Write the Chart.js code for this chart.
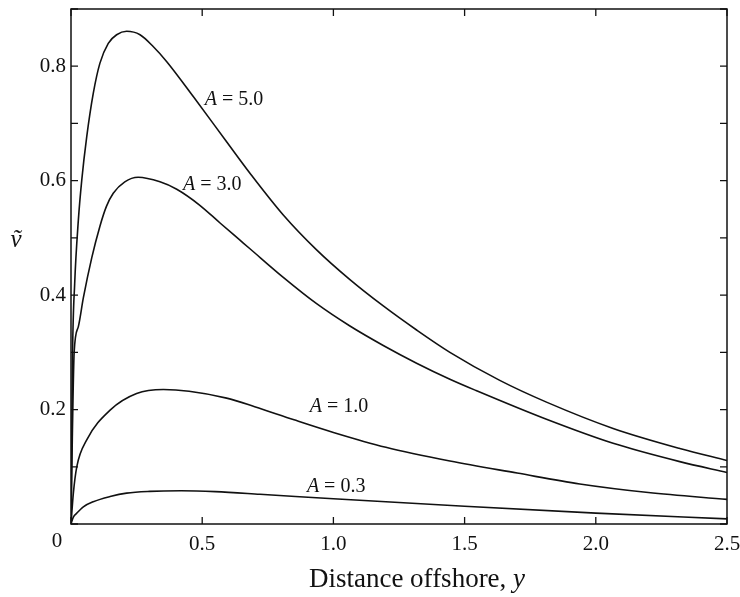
<!DOCTYPE html>
<html>
<head>
<meta charset="utf-8">
<script src="https://cdn.jsdelivr.net/npm/chart.js@4/dist/chart.umd.min.js"></script>
<style>
  html, body { margin: 0; padding: 0; background: #fff; overflow: hidden; }
  #wrap { width: 740px; height: 597px; position: relative; }
</style>
</head>
<body>
<div id="wrap"><canvas id="chartV"></canvas></div>
<script>
// Curves: distance offshore (x) vs v~ (y)
const a50X = [0, 0.003, 0.006, 0.014, 0.028, 0.041, 0.060, 0.085, 0.110, 0.142, 0.174, 0.212, 0.263, 0.314, 0.365, 0.466, 0.593, 0.682, 0.809, 0.936, 1.063, 1.190, 1.317, 1.444, 1.634, 1.812, 2.066, 2.320, 2.5];
const a50Y = [0, 0.15, 0.30, 0.42, 0.531, 0.601, 0.677, 0.753, 0.805, 0.840, 0.855, 0.861, 0.855, 0.834, 0.808, 0.747, 0.668, 0.613, 0.540, 0.479, 0.427, 0.381, 0.339, 0.300, 0.251, 0.213, 0.167, 0.132, 0.111];

const a30X = [0, 0.005, 0.012, 0.028, 0.047, 0.079, 0.110, 0.135, 0.161, 0.205, 0.256, 0.339, 0.403, 0.491, 0.568, 0.644, 0.682, 0.809, 0.936, 1.063, 1.190, 1.317, 1.444, 1.545, 1.812, 2.066, 2.320, 2.5];
const a30Y = [0, 0.15, 0.30, 0.345, 0.395, 0.465, 0.520, 0.555, 0.578, 0.598, 0.606, 0.598, 0.585, 0.557, 0.526, 0.496, 0.481, 0.431, 0.385, 0.346, 0.312, 0.281, 0.253, 0.233, 0.183, 0.141, 0.109, 0.090];

const a10X = [0, 0.009, 0.022, 0.060, 0.149, 0.250, 0.352, 0.450, 0.593, 0.700, 0.850, 1.000, 1.200, 1.444, 1.700, 1.939, 2.200, 2.5];
const a10Y = [0, 0.054, 0.100, 0.147, 0.199, 0.228, 0.235, 0.232, 0.220, 0.205, 0.182, 0.160, 0.134, 0.110, 0.089, 0.070, 0.055, 0.043];

const a03X = [0, 0.009, 0.022, 0.047, 0.085, 0.149, 0.212, 0.300, 0.420, 0.550, 0.720, 1.000, 1.500, 2.000, 2.5];
const a03Y = [0, 0.012, 0.019, 0.030, 0.039, 0.048, 0.054, 0.057, 0.058, 0.0565, 0.052, 0.044, 0.031, 0.019, 0.009];

const xTickValues = [0, 0.5, 1.0, 1.5, 2.0, 2.5];
const yTickValues = [0, 0.1, 0.2, 0.3, 0.4, 0.5, 0.6, 0.7, 0.8, 0.9];
const yLabelled = [0.2, 0.4, 0.6, 0.8];

// curve labels, anchored at data coords (left edge, vertical middle)
const curveLabels = [
  { value: '5.0', x: 0.51, y: 0.741 },
  { value: '3.0', x: 0.427, y: 0.593 },
  { value: '1.0', x: 0.910, y: 0.205 },
  { value: '0.3', x: 0.899, y: 0.065 }
];

const SERIF = "'Liberation Serif', 'Times New Roman', serif";
const INK = '#111';

function pts(xs, ys) {
  return xs.map(function(x, i) { return { x: x, y: ys[i] }; });
}

function curve(label, xs, ys) {
  return {
    label: label,
    data: pts(xs, ys),
    borderColor: INK,
    borderWidth: 1.6,
    pointRadius: 0,
    fill: false,
    cubicInterpolationMode: 'monotone'
  };
}

// frame, inward ticks and the extra text
const overlay = {
  id: 'overlay',
  afterDraw(chart) {
    const ctx = chart.ctx;
    const a = chart.chartArea;
    const x = chart.scales.x;
    const y = chart.scales.y;
    ctx.save();
    ctx.strokeStyle = INK;
    ctx.lineWidth = 1.5;
    ctx.strokeRect(a.left, a.top, a.right - a.left, a.bottom - a.top);

    ctx.lineWidth = 1.3;
    ctx.beginPath();
    xTickValues.forEach(function(v) {
      const px = x.getPixelForValue(v);
      ctx.moveTo(px, a.bottom); ctx.lineTo(px, a.bottom - 7);
      ctx.moveTo(px, a.top); ctx.lineTo(px, a.top + 7);
    });
    yTickValues.forEach(function(v) {
      const py = y.getPixelForValue(v);
      ctx.moveTo(a.left, py); ctx.lineTo(a.left + 7, py);
      ctx.moveTo(a.right, py); ctx.lineTo(a.right - 7, py);
    });
    ctx.stroke();

    ctx.fillStyle = INK;
    ctx.textBaseline = 'middle';

    // origin label sits left of the corner
    ctx.font = '21px ' + SERIF;
    ctx.textAlign = 'center';
    ctx.fillText('0', x.getPixelForValue(0) - 14, a.bottom + 17);

    // curve labels: italic A, upright rest
    curveLabels.forEach(function(l) {
      let px = x.getPixelForValue(l.x);
      const py = y.getPixelForValue(l.y);
      ctx.textAlign = 'left';
      ctx.font = 'italic 20px ' + SERIF;
      ctx.fillText('A', px, py);
      px += ctx.measureText('A').width;
      ctx.font = '20px ' + SERIF;
      ctx.fillText(' = ' + l.value, px, py);
    });

    // x axis title
    ctx.font = '27px ' + SERIF;
    const t1 = 'Distance offshore, ';
    const w1 = ctx.measureText(t1).width;
    ctx.font = 'italic 27px ' + SERIF;
    const w2 = ctx.measureText('y').width;
    const tx = 417 - (w1 + w2) / 2;
    ctx.textAlign = 'left';
    ctx.font = '27px ' + SERIF;
    ctx.fillText(t1, tx, 580);
    ctx.font = 'italic 27px ' + SERIF;
    ctx.fillText('y', tx + w1, 580);

    // y axis symbol
    ctx.font = 'italic 25px ' + SERIF;
    ctx.textAlign = 'center';
    ctx.fillText('v\u0303', 16, 240);
    ctx.restore();
  }
};

new Chart(document.getElementById('chartV').getContext('2d'), {
  type: 'line',
  data: {
    datasets: [
      curve('A = 5.0', a50X, a50Y),
      curve('A = 3.0', a30X, a30Y),
      curve('A = 1.0', a10X, a10Y),
      curve('A = 0.3', a03X, a03Y)
    ]
  },
  options: {
    responsive: true,
    maintainAspectRatio: false,
    animation: false,
    layout: { padding: { top: 9, right: 13, left: 0, bottom: 0 } },
    plugins: {
      legend: { display: false },
      tooltip: { enabled: false }
    },
    scales: {
      x: {
        type: 'linear',
        min: 0,
        max: 2.5,
        grid: { display: false, drawTicks: false },
        border: { display: false },
        afterFit: function(s) { s.height = 73; s.paddingLeft = 0; s.paddingRight = 0; },
        ticks: {
          stepSize: 0.5,
          padding: 8,
          maxRotation: 0,
          color: INK,
          font: { family: SERIF, size: 21 },
          callback: function(v) { return v === 0 ? '' : v.toFixed(1); }
        }
      },
      y: {
        min: 0,
        max: 0.9,
        grid: { display: false, drawTicks: false },
        border: { display: false },
        afterFit: function(s) { s.width = 71; s.paddingTop = 0; s.paddingBottom = 0; },
        ticks: {
          stepSize: 0.1,
          padding: 5,
          color: INK,
          font: { family: SERIF, size: 21 },
          callback: function(v) {
            const r = Math.round(v * 10) / 10;
            return yLabelled.indexOf(r) >= 0 ? r.toFixed(1) : '';
          }
        }
      }
    }
  },
  plugins: [overlay]
});
</script>
</body>
</html>
